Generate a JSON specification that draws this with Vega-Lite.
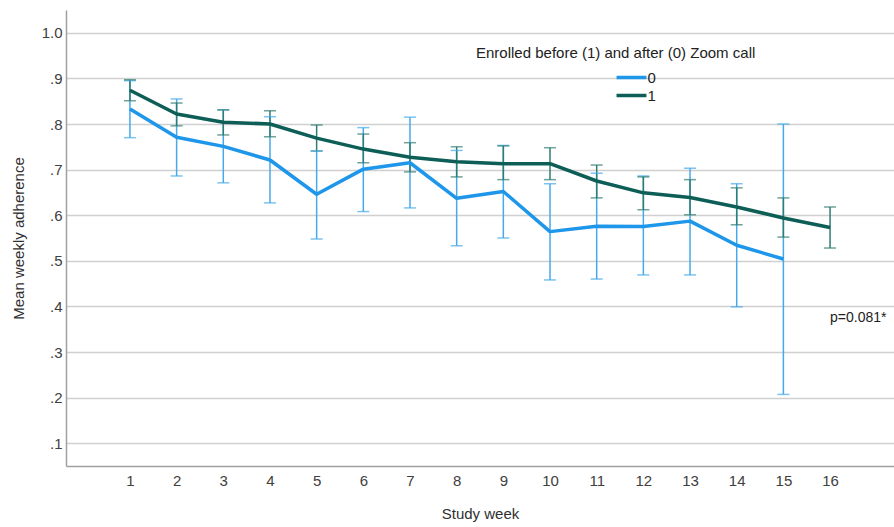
{
  "$schema": "https://vega.github.io/schema/vega-lite/v6.json",
  "autosize": "none",
  "width": 828,
  "height": 456,
  "padding": {"left": 66, "top": 10, "right": 0, "bottom": 61},
  "background": "white",
  "config": {
    "font": "Liberation Sans",
    "view": {"stroke": null},
    "axis": {"labelFont": "Liberation Sans", "titleFont": "Liberation Sans", "labelColor": "#404040", "titleColor": "#303030", "labelFontSize": 15, "titleFontSize": 15, "titleFontWeight": "normal"}
  },
  "datasets": {
    "means": [
      {"week": 1, "group": "0", "mean": 0.833, "lo": 0.770, "hi": 0.895},
      {"week": 2, "group": "0", "mean": 0.771, "lo": 0.686, "hi": 0.855},
      {"week": 3, "group": "0", "mean": 0.751, "lo": 0.671, "hi": 0.831},
      {"week": 4, "group": "0", "mean": 0.721, "lo": 0.627, "hi": 0.816},
      {"week": 5, "group": "0", "mean": 0.646, "lo": 0.548, "hi": 0.741},
      {"week": 6, "group": "0", "mean": 0.701, "lo": 0.608, "hi": 0.792},
      {"week": 7, "group": "0", "mean": 0.715, "lo": 0.616, "hi": 0.815},
      {"week": 8, "group": "0", "mean": 0.637, "lo": 0.533, "hi": 0.742},
      {"week": 9, "group": "0", "mean": 0.652, "lo": 0.550, "hi": 0.753},
      {"week": 10, "group": "0", "mean": 0.564, "lo": 0.458, "hi": 0.669},
      {"week": 11, "group": "0", "mean": 0.576, "lo": 0.460, "hi": 0.692},
      {"week": 12, "group": "0", "mean": 0.575, "lo": 0.469, "hi": 0.686},
      {"week": 13, "group": "0", "mean": 0.587, "lo": 0.469, "hi": 0.703},
      {"week": 14, "group": "0", "mean": 0.534, "lo": 0.399, "hi": 0.669},
      {"week": 15, "group": "0", "mean": 0.504, "lo": 0.207, "hi": 0.800},
      {"week": 1, "group": "1", "mean": 0.874, "lo": 0.851, "hi": 0.897},
      {"week": 2, "group": "1", "mean": 0.822, "lo": 0.796, "hi": 0.846},
      {"week": 3, "group": "1", "mean": 0.804, "lo": 0.776, "hi": 0.831},
      {"week": 4, "group": "1", "mean": 0.800, "lo": 0.772, "hi": 0.829},
      {"week": 5, "group": "1", "mean": 0.769, "lo": 0.741, "hi": 0.798},
      {"week": 6, "group": "1", "mean": 0.745, "lo": 0.715, "hi": 0.778},
      {"week": 7, "group": "1", "mean": 0.727, "lo": 0.695, "hi": 0.759},
      {"week": 8, "group": "1", "mean": 0.717, "lo": 0.684, "hi": 0.750},
      {"week": 9, "group": "1", "mean": 0.713, "lo": 0.678, "hi": 0.752},
      {"week": 10, "group": "1", "mean": 0.713, "lo": 0.678, "hi": 0.748},
      {"week": 11, "group": "1", "mean": 0.675, "lo": 0.638, "hi": 0.710},
      {"week": 12, "group": "1", "mean": 0.649, "lo": 0.612, "hi": 0.684},
      {"week": 13, "group": "1", "mean": 0.639, "lo": 0.601, "hi": 0.678},
      {"week": 14, "group": "1", "mean": 0.618, "lo": 0.579, "hi": 0.660},
      {"week": 15, "group": "1", "mean": 0.594, "lo": 0.552, "hi": 0.638},
      {"week": 16, "group": "1", "mean": 0.573, "lo": 0.528, "hi": 0.618}
    ],
    "note": [{"week": 16.0, "value": 0.375, "label": "p=0.081*"}]
  },
  "resolve": {"scale": {"color": "independent"}},
  "layer": [
    {
      "data": {"name": "means"},
      "mark": {"type": "rule", "strokeWidth": 1.5},
      "encoding": {
        "x": {"field": "week", "type": "quantitative", "scale": {"domain": [-0.37, 17.37], "nice": false, "zero": false},
          "axis": {"values": [1,2,3,4,5,6,7,8,9,10,11,12,13,14,15,16], "title": "Study week", "grid": false, "ticks": false, "domainColor": "#a0a0a0", "domainWidth": 1.5, "labelPadding": 7, "titlePadding": 18, "labelFlush": false}},
        "y": {"field": "lo", "type": "quantitative", "scale": {"domain": [0.05, 1.05], "nice": false, "zero": false},
          "axis": {"values": [0.1,0.2,0.3,0.4,0.5,0.6,0.7,0.8,0.9,1.0], "title": "Mean weekly adherence", "ticks": false, "gridColor": "#d0d0d0", "gridWidth": 1.5, "domainColor": "#a0a0a0", "domainWidth": 1.5, "labelPadding": 4, "titlePadding": 15,
            "labelExpr": "datum.value >= 0.999 ? '1.0' : replace(format(datum.value, '.1f'), '0.', '.')"}},
        "y2": {"field": "hi"},
        "color": {"field": "group", "type": "nominal", "scale": {"domain": ["0", "1"], "range": ["#45a9ec", "#2f7d72"]}, "legend": null}
      }
    },
    {
      "data": {"name": "means"},
      "mark": {"type": "tick", "orient": "horizontal", "size": 12, "thickness": 1.5},
      "encoding": {
        "x": {"field": "week", "type": "quantitative"},
        "y": {"field": "lo", "type": "quantitative"},
        "color": {"field": "group", "type": "nominal", "scale": {"domain": ["0", "1"], "range": ["#45a9ec", "#2f7d72"]}, "legend": null}
      }
    },
    {
      "data": {"name": "means"},
      "mark": {"type": "tick", "orient": "horizontal", "size": 12, "thickness": 1.5},
      "encoding": {
        "x": {"field": "week", "type": "quantitative"},
        "y": {"field": "hi", "type": "quantitative"},
        "color": {"field": "group", "type": "nominal", "scale": {"domain": ["0", "1"], "range": ["#45a9ec", "#2f7d72"]}, "legend": null}
      }
    },
    {
      "data": {"name": "means"},
      "mark": {"type": "line", "strokeWidth": 3.5, "strokeJoin": "round"},
      "encoding": {
        "x": {"field": "week", "type": "quantitative"},
        "y": {"field": "mean", "type": "quantitative"},
        "color": {"field": "group", "type": "nominal", "scale": {"domain": ["0", "1"], "range": ["#1e96ea", "#0d5e56"]},
          "legend": {"title": "Enrolled before (1) and after (0) Zoom call", "orient": "none", "legendX": 410, "legendY": 36,
            "titleFont": "Liberation Sans", "titleFontSize": 15, "titleFontWeight": "normal", "titleColor": "#222222", "titlePadding": 9, "titleLimit": 1000,
            "labelFont": "Liberation Sans", "labelFontSize": 15, "labelColor": "#222222", "labelOffset": 8.5,
            "symbolType": "M-4,0H4", "symbolSize": 56, "symbolStrokeWidth": 3.5, "symbolOffset": 148, "rowPadding": 2}}
      }
    },
    {
      "data": {"name": "note"},
      "mark": {"type": "text", "align": "left", "baseline": "middle", "fontSize": 14, "font": "Liberation Sans", "color": "#222222"},
      "encoding": {
        "x": {"field": "week", "type": "quantitative"},
        "y": {"field": "value", "type": "quantitative"},
        "text": {"field": "label"}
      }
    }
  ]
}
